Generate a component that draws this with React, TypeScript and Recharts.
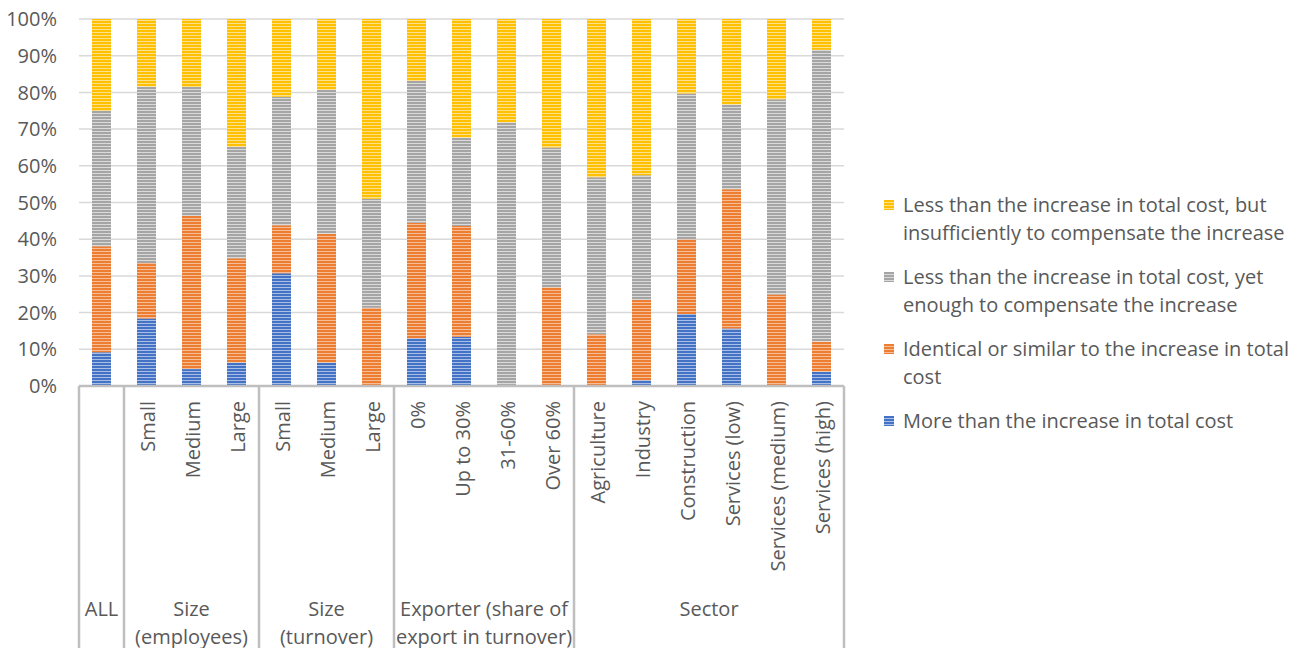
import { Bar, BarChart, CartesianGrid, Legend, XAxis, YAxis } from "recharts";

const categories = [
  "ALL", "Small", "Medium", "Large", "Small", "Medium", "Large",
  "0%", "Up to 30%", "31-60%", "Over 60%",
  "Agriculture", "Industry", "Construction", "Services (low)", "Services (medium)", "Services (high)"
];
const groupOf = [0, 1, 1, 1, 2, 2, 2, 3, 3, 3, 3, 4, 4, 4, 4, 4, 4];
const groupLabels = [
  ["ALL"],
  ["Size", "(employees)"],
  ["Size", "(turnover)"],
  ["Exporter (share of", "export in turnover)"],
  ["Sector"]
];

const more = [9.2, 18.4, 4.6, 6.4, 30.7, 6.4, 0, 13.0, 13.4, 0, 0, 0, 1.6, 19.6, 15.7, 0, 3.9];
const identical = [28.9, 15.1, 41.7, 28.4, 13.1, 35.1, 21.3, 31.5, 30.2, 0, 26.9, 14.1, 21.8, 20.4, 37.9, 24.9, 8.2];
const enough = [36.8, 48.1, 35.2, 30.4, 35.0, 39.2, 29.7, 38.6, 24.1, 71.9, 38.1, 42.8, 34.0, 39.7, 23.1, 53.2, 79.5];
const insufficient = [25.1, 18.4, 18.5, 34.8, 21.2, 19.3, 49.0, 16.9, 32.3, 28.1, 35.0, 43.1, 42.6, 20.3, 23.3, 21.9, 8.4];

const yTicks = [0, 10, 20, 30, 40, 50, 60, 70, 80, 90, 100];

const seriesNames: Record<string, string> = {
  more: "More than the increase in total cost",
  identical: "Identical or similar to the increase in total cost",
  enough: "Less than the increase in total cost, yet enough to compensate the increase",
  insufficient: "Less than the increase in total cost, but insufficiently to compensate the increase"
};
const legendOrder = ["insufficient", "enough", "identical", "more"];

const colors: Record<string, [string, string]> = {
  more: ["#4472C4", "#A9BEE6"],
  identical: ["#ED7D31", "#F6BE98"],
  enough: ["#A5A5A5", "#DADADA"],
  insufficient: ["#FFC000", "#FFE08A"]
};

const data = categories.map((name, i) => ({
  name,
  more: more[i],
  identical: identical[i],
  enough: enough[i],
  insufficient: insufficient[i]
}));

const CHART_W = 1307;
const CHART_H = 648;
const Y_AXIS_W = 79;
const MARGIN = { top: 19, right: 463, bottom: 0, left: 0 };
const X_AXIS_H = 262;
const PLOT_W = CHART_W - MARGIN.left - MARGIN.right - Y_AXIS_W;
const FONT = 20;
const TEXT = "#595959";
const LINE = "#BFBFBF";

function CategoryTick(props: any) {
  const { x, y, payload } = props;
  const i: number = payload.index ?? props.index;
  const band = PLOT_W / categories.length;
  const g = groupOf[i];
  const first = i === 0 || groupOf[i - 1] !== g;
  const last = i === categories.length - 1;
  const count = groupOf.filter(v => v === g).length;
  const groupCenter = x + ((count - 1) * band) / 2;
  const showLeaf = g !== 0;

  return (
    <g>
      {showLeaf && (
        <text
          transform={`translate(${x + 1},${y + 15}) rotate(-90)`}
          textAnchor="end"
          dominantBaseline="central"
          fill={TEXT}
          fontSize={FONT}
        >
          {payload.value}
        </text>
      )}
      {first && (
        <>
          <line x1={x - band / 2} x2={x - band / 2} y1={y} y2={CHART_H} stroke={LINE} strokeWidth={2.5} />
          {groupLabels[g].map((line, k) => (
            <text
              key={k}
              x={groupCenter}
              y={y + 222 + k * 28}
              textAnchor="middle"
              dominantBaseline="central"
              fill={TEXT}
              fontSize={FONT}
            >
              {line}
            </text>
          ))}
        </>
      )}
      {last && <line x1={x + band / 2} x2={x + band / 2} y1={y} y2={CHART_H} stroke={LINE} strokeWidth={2.5} />}
    </g>
  );
}

function LegendContent(props: any) {
  const payload: any[] = props.payload ?? [];
  const items = legendOrder
    .map(key => payload.find(p => p.dataKey === key))
    .filter(Boolean);
  return (
    <div>
      {items.map((item: any) => (
        <div key={item.dataKey} style={{ display: "flex", alignItems: "flex-start", marginBottom: 16 }}>
          <svg width={10} height={10} style={{ marginTop: 9, marginRight: 9, flex: "none" }}>
            <rect width={10} height={10} fill={`url(#stripe-${item.dataKey})`} />
          </svg>
          <div style={{ width: 400, fontSize: FONT, lineHeight: "28px", color: TEXT, whiteSpace: "normal" }}>
            {item.value}
          </div>
        </div>
      ))}
    </div>
  );
}

export default function App() {
  return (
    <div style={{ position: "absolute", left: 0, top: 0, fontFamily: "'Open Sans', sans-serif" }}>
      <BarChart width={CHART_W} height={CHART_H} data={data} margin={MARGIN} barSize={19}>
        <defs>
          {Object.entries(colors).map(([key, [main, light]]) => (
            <pattern key={key} id={`stripe-${key}`} patternUnits="userSpaceOnUse" width={6} height={3}>
              <rect width={6} height={3} fill={light} />
              <rect width={6} height={2} fill={main} />
            </pattern>
          ))}
        </defs>
        <CartesianGrid vertical={false} stroke="#D9D9D9" strokeWidth={1.5} />
        <YAxis
          width={Y_AXIS_W}
          domain={[0, 100]}
          ticks={yTicks}
          interval={0}
          axisLine={false}
          tickLine={false}
          tickSize={0}
          tickMargin={22}
          tickFormatter={(v: number) => `${v}%`}
          tick={{ fill: TEXT, fontSize: FONT }}
        />
        <XAxis
          dataKey="name"
          height={X_AXIS_H}
          interval={0}
          tickLine={false}
          tickSize={0}
          tickMargin={0}
          axisLine={{ stroke: LINE, strokeWidth: 2.5 }}
          tick={<CategoryTick />}
        />
        <Legend
          layout="horizontal"
          verticalAlign="middle"
          align="center"
          wrapperStyle={{ position: "absolute", left: 884, top: 191, width: 423 }}
          content={<LegendContent />}
        />
        <Bar dataKey="more" name={seriesNames.more} stackId="a" fill="url(#stripe-more)" isAnimationActive={false} />
        <Bar dataKey="identical" name={seriesNames.identical} stackId="a" fill="url(#stripe-identical)" isAnimationActive={false} />
        <Bar dataKey="enough" name={seriesNames.enough} stackId="a" fill="url(#stripe-enough)" isAnimationActive={false} />
        <Bar dataKey="insufficient" name={seriesNames.insufficient} stackId="a" fill="url(#stripe-insufficient)" isAnimationActive={false} />
      </BarChart>
    </div>
  );
}
